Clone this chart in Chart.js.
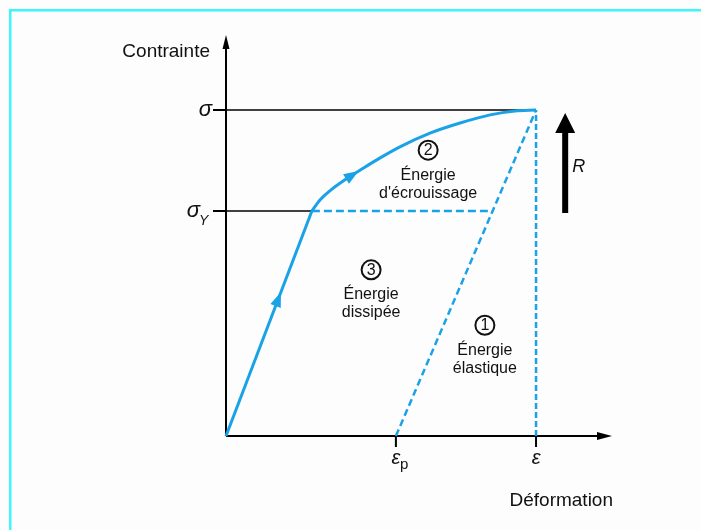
<!DOCTYPE html>
<html lang="fr">
<head>
<meta charset="utf-8">
<title>Contrainte – Déformation</title>
<script src="https://cdn.jsdelivr.net/npm/chart.js@4.4.1/dist/chart.umd.min.js"></script>
<style>
  html, body { margin: 0; padding: 0; background: #fdfdfd; }
  #wrap { width: 701px; height: 530px; }
  canvas { display: block; }
</style>
</head>
<body>
<div id="wrap"><canvas id="courbe" width="701" height="530"></canvas></div>
<script>
// unités arbitraires : ε = 10, σ = 10
const epsY = 2.77;   // déformation au seuil
const sigY = 6.9;    // limite élastique σY
const epsP = 5.48;   // déformation plastique εp
const eps = 10;      // déformation totale ε
const sigma = 10;    // contrainte atteinte σ

// charge élastique
const chargeX = [0, epsY];
const chargeY = [0, sigY];
// écrouissage
const ecrouX = [2.77, 3.03, 3.35, 3.84, 4.32, 4.97, 5.61, 6.58, 7.55, 8.52, 9.32, 10];
const ecrouY = [6.90, 7.24, 7.52, 7.86, 8.15, 8.53, 8.87, 9.29, 9.60, 9.85, 9.97, 10];
// décharge élastique (εp -> ε)
const dechargeX = [epsP, eps];
const dechargeY = [0, sigma];

// graduations
const xTicks = [epsP, eps];
const xTickLabels = [['ε', 'p'], ['ε', '']];
const yTicks = [sigma, sigY];
const yTickLabels = [['σ', ''], ['σ', 'Y']];

// zones d'énergie
const zoneNums = ['1', '2', '3'];
const zoneTexts = [['Énergie', 'élastique'], ['Énergie', "d'écrouissage"], ['Énergie', 'dissipée']];
const zoneX = [8.35, 6.52, 4.68];
const zoneY = [2.63, 8.0, 4.33];

const BLEU = '#1aa2e6';
const FONT = "'Liberation Sans', Arial, sans-serif";

const pts = (xs, ys) => xs.map((x, i) => ({ x: x, y: ys[i] }));

// intersection du palier σY avec la droite de décharge
const xInter = epsP + sigY * (eps - epsP) / sigma;

const fleche = (ctx, x, y, ang, len, wid) => {
  ctx.save();
  ctx.translate(x, y);
  ctx.rotate(ang);
  ctx.beginPath();
  ctx.moveTo(0, 0);
  ctx.lineTo(-len, -wid / 2);
  ctx.lineTo(-len, wid / 2);
  ctx.closePath();
  ctx.fill();
  ctx.restore();
};

const decor = {
  id: 'decor',
  beforeDraw(chart) {
    const ctx = chart.ctx;
    ctx.save();
    ctx.fillStyle = '#fdfdfd';
    ctx.fillRect(0, 0, chart.width, chart.height);
    // cadre
    ctx.fillStyle = '#3ff6f6';
    ctx.fillRect(9, 9, chart.width - 9, 2.5);
    ctx.fillRect(9, 9, 2.5, chart.height - 9);
    ctx.restore();
  },
  beforeDatasetsDraw(chart) {
    const ctx = chart.ctx;
    const sx = chart.scales.x, sy = chart.scales.y;
    const x0 = sx.getPixelForValue(0), y0 = sy.getPixelForValue(0);
    const xEnd = chart.chartArea.right, yEnd = chart.chartArea.top;
    ctx.save();
    ctx.strokeStyle = '#000';
    ctx.fillStyle = '#000';
    ctx.lineWidth = 2;
    // axes
    ctx.beginPath();
    ctx.moveTo(x0, y0);
    ctx.lineTo(xEnd - 8, y0);
    ctx.moveTo(x0, y0);
    ctx.lineTo(x0, yEnd + 8);
    ctx.stroke();
    fleche(ctx, xEnd, y0, 0, 15, 8);
    fleche(ctx, x0, yEnd, -Math.PI / 2, 14, 7);
    // graduations
    ctx.beginPath();
    xTicks.forEach(v => {
      const px = sx.getPixelForValue(v);
      ctx.moveTo(px, y0);
      ctx.lineTo(px, y0 + 11);
    });
    yTicks.forEach(v => {
      const py = sy.getPixelForValue(v);
      ctx.moveTo(x0 - 13, py);
      ctx.lineTo(x0, py);
    });
    ctx.stroke();
    ctx.restore();
  },
  afterDatasetsDraw(chart) {
    const ctx = chart.ctx;
    const sx = chart.scales.x, sy = chart.scales.y;
    const x0 = sx.getPixelForValue(0), y0 = sy.getPixelForValue(0);
    ctx.save();

    // flèches de sens de parcours
    ctx.fillStyle = BLEU;
    const a1x = sx.getPixelForValue(0.64 * epsY), a1y = sy.getPixelForValue(0.64 * sigY);
    const ang1 = Math.atan2(sy.getPixelForValue(sigY) - y0, sx.getPixelForValue(epsY) - x0);
    fleche(ctx, a1x, a1y, ang1, 15, 11);
    const a2x = sx.getPixelForValue(4.28), a2y = sy.getPixelForValue(8.13);
    const ang2 = Math.atan2(sy.getPixelForValue(8.15) - sy.getPixelForValue(7.86),
                            sx.getPixelForValue(4.32) - sx.getPixelForValue(3.84));
    fleche(ctx, a2x, a2y, ang2, 15, 11);

    // titres des axes
    ctx.fillStyle = '#111';
    ctx.textBaseline = 'middle';
    ctx.font = '19px ' + FONT;
    ctx.textAlign = 'right';
    ctx.fillText('Contrainte', 210, 52);
    ctx.fillText('Déformation', 613, 501);

    // libellés des graduations
    xTicks.forEach((v, i) => {
      const px = sx.getPixelForValue(v);
      const [g, sub] = xTickLabels[i];
      ctx.textAlign = 'center';
      ctx.font = 'italic 20px ' + FONT;
      ctx.fillText(g, px, y0 + 22);
      if (sub) {
        ctx.textAlign = 'left';
        ctx.font = '15px ' + FONT;
        ctx.fillText(sub, px + 4, y0 + 29);
      }
    });
    yTicks.forEach((v, i) => {
      const py = sy.getPixelForValue(v);
      const [g, sub] = yTickLabels[i];
      ctx.textAlign = 'right';
      ctx.font = 'italic 22px ' + FONT;
      if (sub) {
        ctx.fillText(g, x0 - 26, py);
        ctx.textAlign = 'left';
        ctx.font = 'italic 14px ' + FONT;
        ctx.fillText(sub, x0 - 27, py + 10);
      } else {
        ctx.fillText(g, x0 - 14, py);
      }
    });

    // zones d'énergie
    zoneNums.forEach((n, i) => {
      const px = sx.getPixelForValue(zoneX[i]);
      const py = sy.getPixelForValue(zoneY[i]);
      ctx.strokeStyle = '#111';
      ctx.lineWidth = 2;
      ctx.beginPath();
      ctx.arc(px, py - 25, 9.5, 0, Math.PI * 2);
      ctx.stroke();
      ctx.textAlign = 'center';
      ctx.font = '16px ' + FONT;
      ctx.fillText(n, px, py - 24.5);
      ctx.fillText(zoneTexts[i][0], px, py);
      ctx.fillText(zoneTexts[i][1], px, py + 18);
    });

    // flèche R
    const rx = sx.getPixelForValue(10.94);
    const rBas = sy.getPixelForValue(6.84), rHaut = sy.getPixelForValue(9.91);
    ctx.fillStyle = '#000';
    ctx.fillRect(rx - 3, rHaut + 15, 6, rBas - rHaut - 15);
    fleche(ctx, rx, rHaut, -Math.PI / 2, 20, 20);
    ctx.font = 'italic 18px ' + FONT;
    ctx.textAlign = 'left';
    ctx.fillStyle = '#111';
    ctx.fillText('R', rx + 7, sy.getPixelForValue(8.24));
    ctx.restore();
  }
};

const ligne = (data, color, width, dash, order) => ({
  data: data,
  showLine: true,
  borderColor: color,
  borderWidth: width,
  borderDash: dash,
  pointRadius: 0,
  fill: false,
  clip: false,
  order: order
});

const courbe = ligne(pts(ecrouX, ecrouY), BLEU, 3, [], 0);
courbe.cubicInterpolationMode = 'monotone';

new Chart(document.getElementById('courbe'), {
  type: 'scatter',
  data: {
    datasets: [
      ligne(pts(chargeX, chargeY), BLEU, 3, [], 0),
      courbe,
      ligne(pts(dechargeX, dechargeY), BLEU, 2.5, [7, 4], 0),
      ligne(pts([eps, eps], [0, sigma]), BLEU, 2.5, [6, 3], 0),
      ligne(pts([epsY, xInter], [sigY, sigY]), BLEU, 2.5, [8, 4], 0),
      ligne(pts([0, eps], [sigma, sigma]), '#000', 1.6, [], 1),
      ligne(pts([0, epsY], [sigY, sigY]), '#000', 1.6, [], 1)
    ]
  },
  options: {
    responsive: false,
    animation: false,
    layout: { padding: { left: 226, right: 89, top: 35, bottom: 94 } },
    scales: {
      x: { type: 'linear', display: false, min: 0, max: 12.45 },
      y: { type: 'linear', display: false, min: 0, max: 12.3 }
    },
    plugins: {
      legend: { display: false },
      tooltip: { enabled: false }
    }
  },
  plugins: [decor]
});
</script>
</body>
</html>
